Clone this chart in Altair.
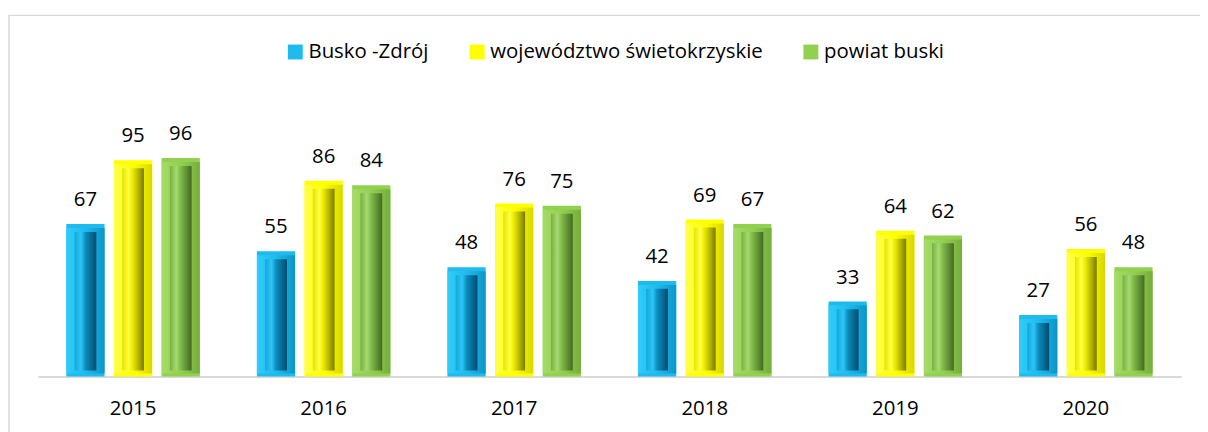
import altair as alt
import pandas as pd

years = ["2015", "2016", "2017", "2018", "2019", "2020"]
series = ["Busko -Zdrój", "województwo świetokrzyskie", "powiat buski"]
busko = [67, 55, 48, 42, 33, 27]
wojewodztwo = [95, 86, 76, 69, 64, 56]
powiat = [96, 84, 75, 67, 62, 48]

frame_colors = ["#1EBBEE", "#FFFF00", "#92D050"]

rows = []
for name, vals in zip(series, [busko, wojewodztwo, powiat]):
    for y, v in zip(years, vals):
        rows.append({"year": y, "series": name, "value": v})
df = pd.DataFrame(rows)

FONT = "Open Sans"

def grad(stops):
    return alt.LinearGradient(
        gradient="linear", x1=0, y1=0, x2=1, y2=0,
        stops=[alt.GradientStop(offset=o, color=c) for o, c in stops],
    )

frame_grads = {
    "Busko -Zdrój": grad([(0, "#30CCFA"), (0.5, "#1EBBEE"), (1, "#0E94C8")]),
    "województwo świetokrzyskie": grad([(0, "#FFFF50"), (0.5, "#FFFF00"), (1, "#D8D800")]),
    "powiat buski": grad([(0, "#A4DC68"), (0.5, "#92D050"), (1, "#74AE3C")]),
}

inner_grads = {
    "Busko -Zdrój": grad([(0, "#14A6DC"), (0.3, "#2CC6F6"), (0.5, "#0C8EC0"), (0.8, "#06668E"), (1, "#044C6C")]),
    "województwo świetokrzyskie": grad([(0, "#E4E400"), (0.3, "#FFFF40"), (0.5, "#E8E800"), (0.8, "#A8A800"), (1, "#7A7A00")]),
    "powiat buski": grad([(0, "#78B040"), (0.3, "#A6DA70"), (0.5, "#80BA48"), (0.8, "#5C8A32"), (1, "#436A24")]),
}

x_enc = alt.X("year:N", sort=years, title=None,
              scale=alt.Scale(paddingInner=0, paddingOuter=0),
              axis=alt.Axis(labelAngle=0, labelFont=FONT, labelFontSize=20.5,
                            labelColor="#000000", labelPadding=38,
                            labelBaseline="alphabetic", ticks=False, tickSize=0,
                            domainColor="#D9D9D9", domainWidth=2, grid=False))
xo_enc = alt.XOffset("series:N", sort=series,
                     scale=alt.Scale(domain=series, paddingInner=0.198, paddingOuter=0.599))
y_enc = alt.Y("value:Q", stack=None,
              scale=alt.Scale(domain=[0, 100], nice=False, zero=True),
              axis=None)
y2_enc = alt.Y2(datum=0)

base = alt.Chart(df).encode(x=x_enc, xOffset=xo_enc, y=y_enc)

outer = base.mark_bar().encode(
    y2=y2_enc,
    color=alt.Color("series:N", sort=series, title=None,
                    scale=alt.Scale(domain=series, range=frame_colors),
                    legend=alt.Legend(orient="none", legendX=249, legendY=-108,
                                      direction="horizontal", symbolType="square",
                                      symbolSize=225, symbolStrokeWidth=0,
                                      labelFont=FONT, labelFontSize=20.5,
                                      labelColor="#000000", labelOffset=3,
                                      columnPadding=38, padding=0,
                                      labelLimit=400))
)

frame_layers = []
inner_layers = []
for s in series:
    frame_layers.append(
        base.transform_filter(alt.datum.series == s).mark_bar(
            yOffset=4, y2Offset=-3, fill=frame_grads[s]
        ).encode(y2=y2_enc)
    )
    inner_layers.append(
        base.transform_filter(alt.datum.series == s).mark_bar(
            width=22, yOffset=8, y2Offset=-6, fill=inner_grads[s]
        ).encode(y2=y2_enc)
    )

labels = base.mark_text(font=FONT, fontSize=20.5, color="#000000",
                        baseline="alphabetic", dy=-18).encode(text="value:Q")

border = alt.Chart(alt.Data(values=[{"a": 1}])).mark_rect(
    fill=None, stroke="#D9D9D9", strokeWidth=1.5
).encode(x=alt.value(-29), x2=alt.value(1200), y=alt.value(-134.5), y2=alt.value(320))

chart = alt.layer(border, outer, *frame_layers, *inner_layers, labels).properties(
    width=1151, height=229,
    background="#FFFFFF",
    autosize=alt.AutoSizeParams(type="none"),
    padding={"left": 30, "top": 140.5, "right": 19, "bottom": 54.5},
).configure_view(strokeWidth=0, stroke="transparent")

chart.save("out.html", embed_options={"renderer": "svg", "actions": False})
